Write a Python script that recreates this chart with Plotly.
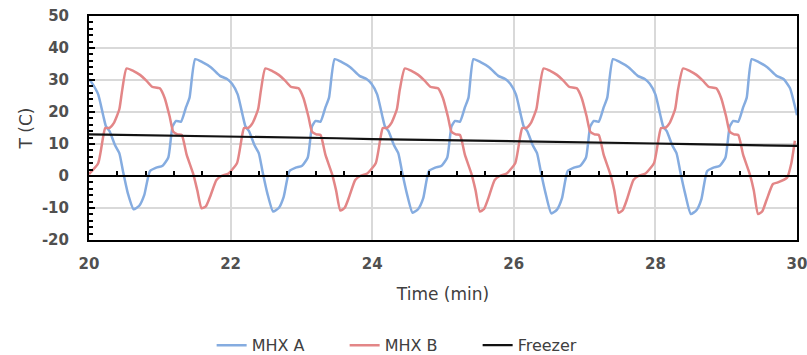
import plotly.graph_objects as go

# ---------------- data ----------------
t_a = [20.00, 20.05, 20.13, 20.20, 20.24, 20.29, 20.37, 20.43, 20.48, 20.55, 20.63, 20.71, 20.78, 20.86, 20.95, 21.04, 21.12, 21.18, 21.23, 21.30, 21.37, 21.42,
       21.50, 21.60, 21.72, 21.85, 21.95, 22.02, 22.10, 22.17, 22.21, 22.26, 22.34, 22.40, 22.45, 22.52, 22.60, 22.68, 22.75, 22.83, 22.92, 23.01, 23.09, 23.15, 23.20, 23.27, 23.34, 23.39,
       23.47, 23.57, 23.69, 23.82, 23.92, 23.99, 24.07, 24.14, 24.18, 24.23, 24.31, 24.37, 24.42, 24.49, 24.57, 24.65, 24.72, 24.80, 24.89, 24.98, 25.06, 25.12, 25.17, 25.24, 25.31, 25.36,
       25.43, 25.53, 25.65, 25.78, 25.88, 25.95, 26.03, 26.10, 26.14, 26.19, 26.27, 26.33, 26.38, 26.45, 26.53, 26.61, 26.68, 26.76, 26.85, 26.94, 27.02, 27.08, 27.13, 27.20, 27.27, 27.32,
       27.40, 27.50, 27.62, 27.75, 27.85, 27.92, 28.00, 28.07, 28.11, 28.16, 28.24, 28.30, 28.35, 28.42, 28.50, 28.58, 28.65, 28.73, 28.82, 28.91, 28.99, 29.05, 29.10, 29.17, 29.24, 29.29,
       29.36, 29.46, 29.58, 29.71, 29.81, 29.90, 30.00]
mhx_a = [30.3, 28.8, 25.5, 19.0, 15.5, 14.0, 9.5, 7.0, 1.5, -5.5, -10.4, -9.3, -6.0, 1.5, 2.6, 3.2, 5.8, 15.5, 17.2, 17.0, 21.5, 24.5,
         36.5, 35.6, 34.0, 31.3, 30.3, 28.8, 25.5, 19.0, 15.5, 14.0, 9.5, 7.0, 1.5, -5.5, -11.1, -10.0, -6.5, 1.5, 2.6, 3.2, 5.8, 15.5, 17.2, 17.0, 21.5, 24.5,
         36.5, 35.6, 34.0, 31.3, 30.3, 28.8, 25.5, 19.0, 15.5, 14.0, 9.5, 7.0, 1.5, -5.5, -11.5, -10.3, -7.0, 1.5, 2.6, 3.2, 5.8, 15.5, 17.2, 17.0, 21.5, 24.5,
         36.5, 35.6, 34.0, 31.3, 30.3, 28.8, 25.5, 19.0, 15.5, 14.0, 9.5, 7.0, 1.5, -5.5, -11.7, -10.5, -7.0, 1.5, 2.6, 3.2, 5.8, 15.5, 17.2, 17.0, 21.5, 24.5,
         36.5, 35.6, 34.0, 31.3, 30.3, 28.8, 25.5, 19.0, 15.5, 14.0, 9.5, 7.0, 1.5, -5.5, -11.9, -10.7, -7.2, 1.5, 2.6, 3.2, 5.8, 15.5, 17.2, 17.0, 21.5, 24.5,
         36.5, 35.6, 34.0, 31.3, 30.3, 27.5, 19.0]

t_b = [20.00, 20.13, 20.20, 20.23, 20.29, 20.35, 20.39, 20.43, 20.47,
       20.53, 20.63, 20.72, 20.81, 20.89, 21.00, 21.07, 21.14, 21.19, 21.25, 21.31, 21.38, 21.47, 21.53, 21.59, 21.65, 21.71, 21.80, 21.87, 21.97, 22.09, 22.16, 22.19, 22.25, 22.31, 22.35, 22.39, 22.43,
       22.49, 22.59, 22.68, 22.77, 22.85, 22.96, 23.03, 23.10, 23.15, 23.21, 23.27, 23.34, 23.43, 23.49, 23.55, 23.61, 23.67, 23.76, 23.83, 23.93, 24.05, 24.12, 24.15, 24.21, 24.27, 24.31, 24.35, 24.39,
       24.46, 24.56, 24.65, 24.74, 24.82, 24.93, 25.00, 25.07, 25.12, 25.18, 25.24, 25.31, 25.40, 25.46, 25.52, 25.58, 25.64, 25.73, 25.80, 25.90, 26.02, 26.09, 26.12, 26.18, 26.24, 26.28, 26.32, 26.36,
       26.42, 26.52, 26.61, 26.70, 26.78, 26.89, 26.96, 27.03, 27.08, 27.14, 27.20, 27.27, 27.36, 27.42, 27.48, 27.54, 27.60, 27.69, 27.76, 27.86, 27.98, 28.05, 28.08, 28.14, 28.20, 28.24, 28.28, 28.32,
       28.39, 28.49, 28.58, 28.67, 28.75, 28.86, 28.93, 29.00, 29.05, 29.11, 29.17, 29.24, 29.33, 29.39, 29.45, 29.51, 29.57, 29.66, 29.73, 29.86, 29.92, 29.97, 30.00]
mhx_b = [0.6, 4.0, 12.3, 15.0, 15.0, 16.5, 18.5, 21.0, 27.0,
         33.6, 32.8, 31.6, 29.8, 27.9, 27.4, 24.3, 18.5, 13.8, 13.0, 12.8, 6.6, 0.8, -4.5, -10.1, -9.5, -6.5, -1.25, 0.0, 0.8, 4.0, 12.3, 15.0, 15.0, 16.5, 18.5, 21.0, 27.0,
         33.6, 32.8, 31.6, 29.8, 27.9, 27.4, 24.3, 18.5, 13.8, 13.0, 12.8, 6.6, 0.8, -4.5, -10.8, -10.0, -6.8, -1.25, 0.0, 0.8, 4.0, 12.3, 15.0, 15.0, 16.5, 18.5, 21.0, 27.0,
         33.6, 32.8, 31.6, 29.8, 27.9, 27.4, 24.3, 18.5, 13.8, 13.0, 12.8, 6.6, 0.8, -4.5, -11.1, -10.3, -7.0, -1.25, 0.0, 0.8, 4.0, 12.3, 15.0, 15.0, 16.5, 18.5, 21.0, 27.0,
         33.6, 32.8, 31.6, 29.8, 27.9, 27.4, 24.3, 18.5, 13.8, 13.0, 12.8, 6.6, 0.8, -4.5, -11.5, -10.6, -7.2, -1.25, 0.0, 0.8, 4.0, 12.3, 15.0, 15.0, 16.5, 18.5, 21.0, 27.0,
         33.6, 32.8, 31.6, 29.8, 27.9, 27.4, 24.3, 18.5, 13.8, 13.0, 12.8, 6.6, 0.8, -4.5, -11.9, -11.0, -7.5, -2.5, -2.0, -0.5, 4.0, 11.0]

t_f = [20.0, 20.5, 21.0, 21.5, 22.0, 22.5, 23.0, 23.5, 24.0, 24.5, 25.0, 25.5, 26.0, 26.5, 27.0, 27.5, 28.0, 28.5, 29.0, 29.5, 30.0]
freezer = [13.0, 12.85, 12.65, 12.5, 12.3, 12.15, 11.9, 11.8, 11.55, 11.4, 11.2, 11.05, 10.85, 10.7, 10.5, 10.3, 10.15, 9.95, 9.8, 9.6, 9.4]

x_ticks = [20, 22, 24, 26, 28, 30]
y_ticks = [-20, -10, 0, 10, 20, 30, 40, 50]

# ---------------- figure ----------------
fig = go.Figure()
fig.add_trace(go.Scatter(x=t_a, y=mhx_a, name="MHX A", mode="lines",
                         line=dict(color="#85ace0", width=2.5, shape="spline", smoothing=0.5)))
fig.add_trace(go.Scatter(x=t_b, y=mhx_b, name="MHX B", mode="lines",
                         line=dict(color="#e38687", width=2.5, shape="spline", smoothing=0.5)))
fig.add_trace(go.Scatter(x=t_f, y=freezer, name="Freezer", mode="lines",
                         line=dict(color="#111111", width=2.2)))
# invisible trace to carry the zero-crossing axis
fig.add_trace(go.Scatter(x=t_f, y=freezer, xaxis="x2", mode="lines", showlegend=False,
                         hoverinfo="skip", line=dict(color="rgba(0,0,0,0)", width=0)))

FONT = "DejaVu Sans, Verdana, sans-serif"
tickfont = dict(family=FONT, size=15, color="#505050", weight="bold")

fig.update_layout(
    width=807, height=355,
    margin=dict(l=89, r=10, t=16, b=115, autoexpand=False),
    paper_bgcolor="white", plot_bgcolor="white",
    showlegend=True,
    legend=dict(orientation="h", x=0.455, xanchor="center", y=-0.47, yanchor="middle",
                font=dict(family=FONT, size=16, color="#404040"),
                entrywidth=88, entrywidthmode="pixels", tracegroupgap=0),
    xaxis=dict(range=[20, 30], tickvals=x_ticks, ticktext=[str(v) for v in x_ticks],
               showgrid=True, gridcolor="#d9d9d9", gridwidth=1.5,
               showline=True, linecolor="black", linewidth=2, mirror=True,
               ticks="", tickfont=tickfont, ticklabelstandoff=9, ticklabeloverflow="allow",
               zeroline=False, automargin=False,
               title=dict(text="Time (min)", font=dict(family=FONT, size=17, color="#404040"), standoff=16)),
    xaxis2=dict(range=[20, 30], overlaying="x", anchor="free", position=20/70, side="bottom",
                showline=True, linecolor="black", linewidth=2,
                ticks="inside", tick0=20, dtick=0.4, ticklen=4, tickwidth=1.5, tickcolor="black",
                showticklabels=False, showgrid=False, zeroline=False, automargin=False),
    yaxis=dict(range=[-20, 50], tickvals=y_ticks, ticktext=[str(v) for v in y_ticks],
               domain=[0, 1],
               showgrid=True, gridcolor="#d9d9d9", gridwidth=1.5,
               showline=True, linecolor="black", linewidth=2, mirror=True,
               ticks="inside", ticklen=6, tickwidth=1.5, tickcolor="black",
               minor=dict(ticks="inside", dtick=2, ticklen=4, tickwidth=1.5, tickcolor="black", showgrid=False),
               tickfont=tickfont, ticklabelstandoff=15, ticklabeloverflow="allow",
               zeroline=False, automargin=False,
               title=dict(text="T (C)", font=dict(family=FONT, size=17, color="#404040"), standoff=5)),
)

fig.write_html("out.html")
